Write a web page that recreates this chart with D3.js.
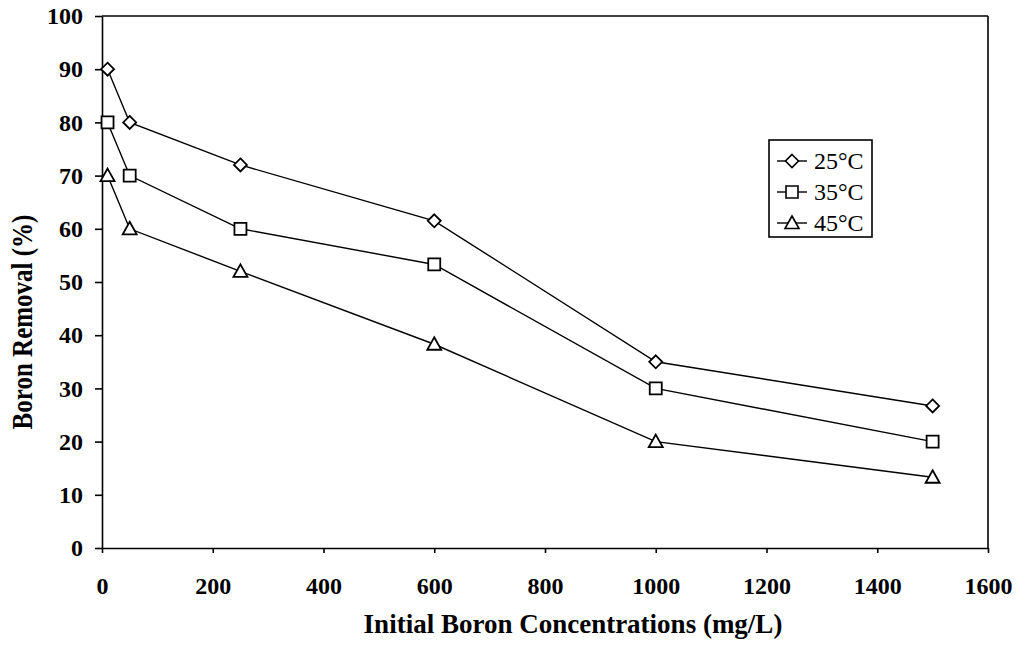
<!DOCTYPE html>
<html>
<head>
<meta charset="utf-8">
<script src="https://cdn.jsdelivr.net/npm/d3@7/dist/d3.min.js"></script>
<style>
  html, body { margin: 0; padding: 0; background: #fff; }
  svg { display: block; }
  .tick text { font-family: "Liberation Serif", "DejaVu Serif", serif; font-weight: bold; font-size: 24px; fill: #000; }
  .tick line, .domain { stroke: #000; stroke-width: 1.6px; }
</style>
</head>
<body>
<svg id="chart" width="1024" height="648"></svg>
<script>
// Initial boron concentration (mg/L)
const concentrations = [10, 50, 250, 600, 1000, 1500];
// Boron removal (%) at each temperature
const removal25 = [90, 80, 72, 61.5, 35, 26.7];
const removal35 = [80, 70, 60, 53.3, 30, 20];
const removal45 = [70, 60, 52, 38.3, 20, 13.3];
const seriesNames = ["25°C", "35°C", "45°C"];
const xTicks = [0, 200, 400, 600, 800, 1000, 1200, 1400, 1600];
const yTicks = [0, 10, 20, 30, 40, 50, 60, 70, 80, 90, 100];

const svg = d3.select("#chart");
const margin = { left: 102, right: 1024 - 988, top: 16, bottom: 648 - 548 };
const W = 1024, H = 648;

const x = d3.scaleLinear().domain([0, 1600]).range([margin.left, W - margin.right]);
const y = d3.scaleLinear().domain([0, 100]).range([H - margin.bottom, margin.top]);

// frame: top and right edges
svg.append("line").attr("x1", x(0)).attr("x2", x(1600)).attr("y1", y(100)).attr("y2", y(100))
  .attr("stroke", "#000").attr("stroke-width", 1.6);
svg.append("line").attr("x1", x(1600)).attr("x2", x(1600)).attr("y1", y(100)).attr("y2", y(0))
  .attr("stroke", "#000").attr("stroke-width", 1.6);

// axes
svg.append("g").attr("transform", `translate(0,${y(0)})`)
  .call(d3.axisBottom(x).tickValues(xTicks).tickSize(5).tickSizeOuter(0).tickPadding(24).tickFormat(d3.format("d")));
svg.append("g").attr("transform", `translate(${x(0)},0)`)
  .call(d3.axisLeft(y).tickValues(yTicks).tickSize(7).tickSizeOuter(0).tickPadding(12).tickFormat(d3.format("d")));

// axis titles
svg.append("text")
  .attr("x", 573).attr("y", 633)
  .attr("text-anchor", "middle")
  .attr("font-family", "Liberation Serif, serif").attr("font-weight", "bold").attr("font-size", 27)
  .text("Initial Boron Concentrations (mg/L)");

svg.append("text")
  .attr("transform", `translate(32,322) scale(1.15,1) rotate(-90)`)
  .attr("text-anchor", "middle")
  .attr("font-family", "Liberation Serif, serif").attr("font-weight", "bold").attr("font-size", 25)
  .text("Boron Removal (%)");

// marker shapes
const markerPath = {
  diamond: "M0,-6.5L6.5,0L0,6.5L-6.5,0Z",
  square: "M-6,-6H6V6H-6Z",
  triangle: "M0,-7L7,5.5H-7Z"
};
const series = [
  { name: seriesNames[0], values: removal25, shape: "diamond" },
  { name: seriesNames[1], values: removal35, shape: "square" },
  { name: seriesNames[2], values: removal45, shape: "triangle" }
];

const line = d3.line().x(d => x(d[0])).y(d => y(d[1]));

series.forEach(s => {
  const pts = concentrations.map((c, i) => [c, s.values[i]]);
  svg.append("path").datum(pts).attr("d", line)
    .attr("fill", "none").attr("stroke", "#000").attr("stroke-width", 1.4);
  svg.selectAll(null).data(pts).enter().append("path")
    .attr("transform", d => `translate(${x(d[0])},${y(d[1])})`)
    .attr("d", markerPath[s.shape])
    .attr("fill", "#fff").attr("stroke", "#000").attr("stroke-width", 1.8);
});

// legend
const lg = svg.append("g").attr("transform", "translate(769,140)");
lg.append("rect").attr("width", 103).attr("height", 97)
  .attr("fill", "#fff").attr("stroke", "#000").attr("stroke-width", 1.6);
series.forEach((s, i) => {
  const cy = 21 + i * 31;
  lg.append("line").attr("x1", 8).attr("x2", 38).attr("y1", cy).attr("y2", cy)
    .attr("stroke", "#000").attr("stroke-width", 1.4);
  lg.append("path").attr("transform", `translate(23,${cy})`).attr("d", markerPath[s.shape])
    .attr("fill", "#fff").attr("stroke", "#000").attr("stroke-width", 1.6);
  lg.append("text").attr("x", 45).attr("y", cy + 8)
    .attr("font-family", "Liberation Serif, serif").attr("font-size", 24)
    .text(s.name);
});
</script>
</body>
</html>
